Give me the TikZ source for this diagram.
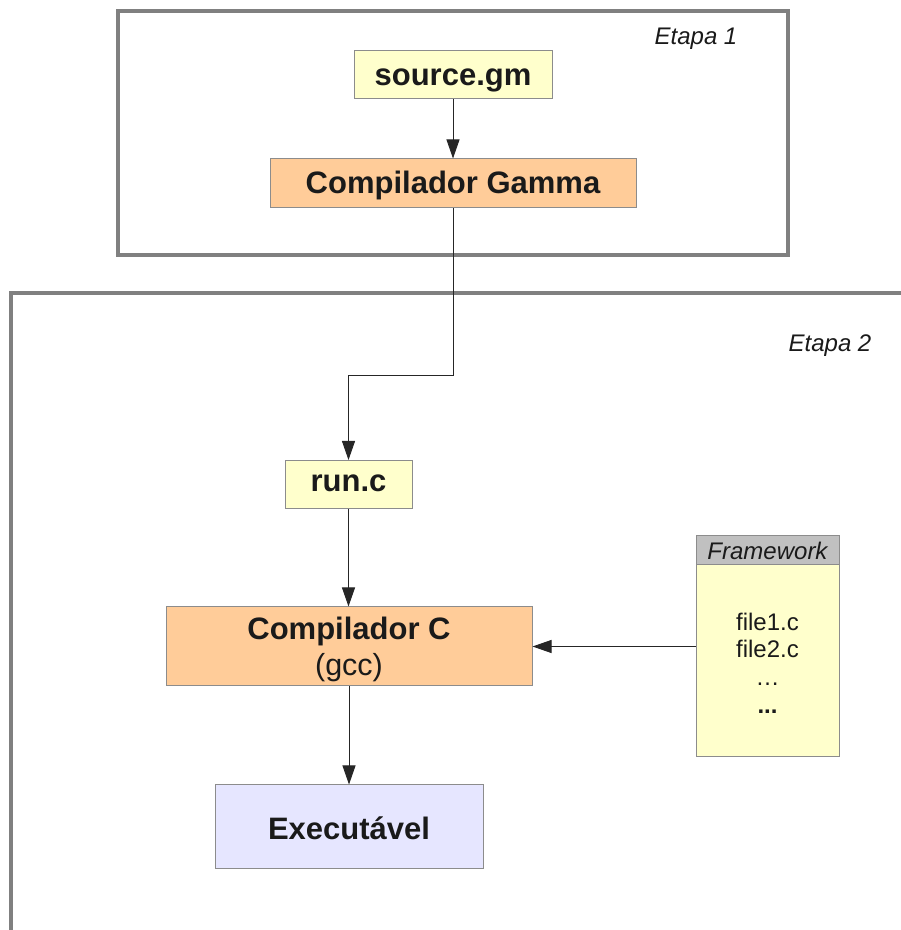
\documentclass[tikz,border=0pt]{standalone}
\usepackage{fontspec}
\setmainfont{Liberation Sans}
\usetikzlibrary{arrows.meta}
\definecolor{framegray}{HTML}{808080}
\definecolor{boxline}{HTML}{8C8C8C}
\definecolor{txt}{HTML}{1A1A1A}
\definecolor{yellowfill}{HTML}{FFFFCC}
\definecolor{orangefill}{HTML}{FFCC99}
\definecolor{lavfill}{HTML}{E6E6FF}
\definecolor{headgray}{HTML}{C0C0C0}
\begin{document}
\begin{tikzpicture}[x=1pt,y=1pt,
  box/.style={draw=boxline, line width=1pt, inner sep=0pt, text=txt,
    font=\fontsize{31}{36}\selectfont\bfseries},
  small/.style={text=txt, inner sep=0pt, font=\fontsize{24}{28}\selectfont},
  conn/.style={draw=black!85, line width=0.9pt, -{Triangle[length=19pt,width=13pt]}},
  stageframe/.style={draw=framegray, line width=4pt, line join=miter}]
\useasboundingbox (0,0) rectangle (901,930);

% stage frames
\draw[stageframe] (118,919) rectangle (788,675);
\draw[stageframe] (11,-5) -- (11,637) -- (906,637);
\node[small, font=\fontsize{24}{28}\selectfont\itshape] (et1) at (696,891) {Etapa 1};
\node[small, font=\fontsize{24}{28}\selectfont\itshape] (et2) at (830,584) {Etapa 2};

% boxes
\node[box, fill=yellowfill, minimum width=198pt, minimum height=48pt,
  text height=28pt, text depth=6pt] (src) at (453,855) {source.gm};
\node[box, fill=orangefill, minimum width=366pt, minimum height=49pt,
  text height=26.6pt, text depth=6pt] (gamma) at (453,746.5) {Compilador Gamma};
\node[box, fill=yellowfill, minimum width=127pt, minimum height=48pt,
  text height=20.6pt, text depth=6pt] (runc) at (348.5,445.5) {run.c};
\node[box, fill=orangefill, minimum width=366pt, minimum height=79pt] (compc) at (349,283.5)
  {\raisebox{-29.5pt}[0pt][0pt]{\begin{tabular}[b]{@{}c@{}}Compilador C\\
   {\mdseries\fontsize{30.5}{36}\selectfont (gcc)}\end{tabular}}};
\node[box, fill=lavfill, minimum width=268pt, minimum height=84pt,
  text height=30.6pt, text depth=6pt] (exe) at (349,103) {Executável};

% framework
\node[draw=boxline, line width=1pt, fill=headgray, minimum width=143pt, minimum height=29pt, inner sep=0pt,
  small, font=\fontsize{24}{28}\selectfont\itshape] (fwhead) at (767.5,379.5) {Framework};
\node[draw=boxline, line width=1pt, fill=yellowfill, minimum width=143pt, minimum height=192pt, inner sep=0pt,
  small, font=\fontsize{24}{27.7}\selectfont, align=center] (fwbody) at (767.5,269)
  {\raisebox{-2pt}[\height][\depth]{file1.c}\\\raisebox{-2pt}[\height][\depth]{file2.c}\\\raisebox{-2pt}[\height][\depth]{…}\\\raisebox{-2pt}[\height][\depth]{\textbf{...}}};

% connectors
\coordinate (bend) at (348.5,555);
\draw[conn] (src.south) -- (gamma.north);
\draw[conn] (gamma.south) |- (bend) -- (runc.north);
\draw[conn] (runc.south) -- (runc.south |- compc.north);
\draw[conn] (compc.south) -- (compc.south |- exe.north);
\draw[conn] (fwbody.west |- compc.east) -- (compc.east);
\end{tikzpicture}
\end{document}
